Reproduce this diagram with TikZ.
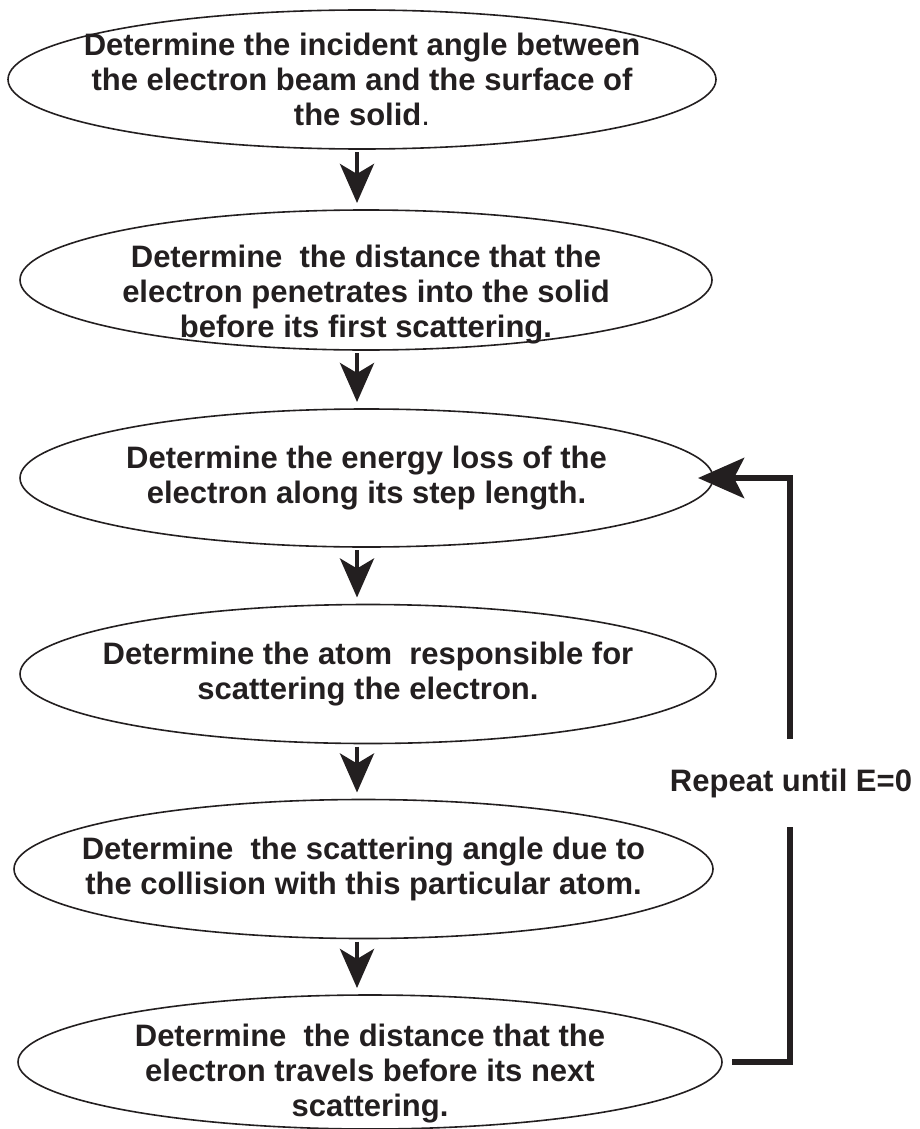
\documentclass[tikz,border=0pt]{standalone}
\usepackage{fontspec}
\setmainfont{Liberation Sans}
\usepackage{tikz}
\usetikzlibrary{arrows.meta,shapes,calc,positioning}
\definecolor{ink}{RGB}{35,31,32}
\tikzstyle{stage}   =[ellipse, draw=ink, line width=1.6pt,
                      inner sep=0pt, outer sep=0pt]
\tikzstyle{words}   =[font=\bfseries\fontsize{31}{35}\selectfont,
                      align=center, text=ink, inner sep=0pt]
\tikzstyle{flow}    =[draw=ink, line width=4.5pt,
                      shorten <=3pt, shorten >=7pt,
                      -{Stealth[length=39pt,width=34pt,inset=10pt]}]
\tikzstyle{loopline}=[draw=ink, line width=6.5pt]

\begin{document}
\begin{tikzpicture}[x=1pt,y=-1pt]
    \useasboundingbox (0,0) rectangle (920,1129);

    \draw (362,79.5) node (s1) [stage, minimum width=708pt, minimum height=139pt] {};
    \draw (366,280) node (s2) [stage, minimum width=692pt, minimum height=140pt] {};
    \draw (366.5,478) node (s3) [stage, minimum width=693pt, minimum height=138pt] {};
    \draw (368,674) node (s4) [stage, minimum width=696pt, minimum height=139pt] {};
    \draw (363.5,869) node (s5) [stage, minimum width=699pt, minimum height=139pt] {};
    \draw (370,1062) node (s6) [stage, minimum width=704pt, minimum height=134pt] {};

    \draw (s1) node (t1) [words] {Determine the incident angle between\\the electron beam and the surface of\\the solid{\mdseries.}};
    \draw ([yshift=-15pt]s2.center) node (t2) [words] {Determine~ the distance that the\\electron penetrates into the solid\\before its first scattering.};
    \draw (s3) node (t3) [words] {Determine the energy loss of the\\electron along its step length.};
    \draw (s4) node (t4) [words] {Determine the atom~ responsible for\\scattering the electron.};
    \draw (s5) node (t5) [words] {Determine~ the scattering angle due to\\the collision with this particular atom.};
    \draw ([yshift=-12pt]s6.center) node (t6) [words] {Determine~ the distance that the\\electron travels before its next\\scattering.};

    \coordinate (axis) at (357,0);
    \foreach \i/\j in {1/2,2/3,3/4,4/5,5/6}
        \draw [flow] (s\i.south -| axis) -- (s\j.north -| axis);

    \draw (791,783) node (rep) [words] {Repeat until E=0};
    \coordinate (up) at (790,739);
    \coordinate (low) at (790,827);
    \draw [loopline, shorten >=-15pt,
           -{Stealth[length=46pt,width=40pt,inset=10pt]}] (up) |- (s3.east);
    \draw [loopline] (low) |- ([xshift=10pt]s6.east);

\end{tikzpicture}
\end{document}
